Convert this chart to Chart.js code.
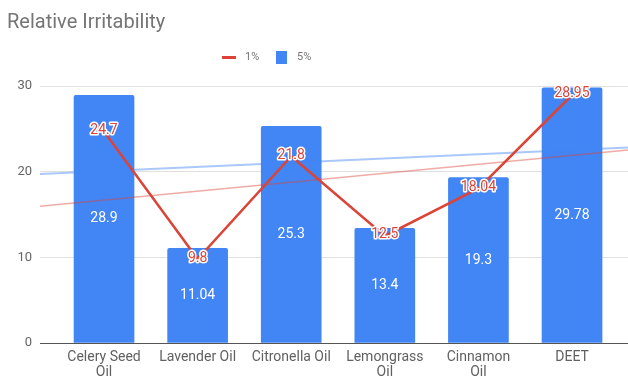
<!DOCTYPE html>
<html><head><meta charset="utf-8">
<script src="https://cdn.jsdelivr.net/npm/chart.js@4.4.1/dist/chart.umd.min.js"></script>
<style>html,body{margin:0;padding:0;background:#fff;} canvas{display:block;}</style>
</head><body>
<canvas id="c" width="628" height="378"></canvas>
<script>
// ---- data ----
const titleText = "Relative Irritability";
const categories = [["Celery Seed","Oil"], "Lavender Oil", "Citronella Oil", ["Lemongrass","Oil"], ["Cinnamon","Oil"], "DEET"];
const seriesNames = ["1%", "5%"];
const values1 = [24.7, 9.8, 21.8, 12.5, 18.04, 28.95];
const values5 = [28.9, 11.04, 25.3, 13.4, 19.3, 29.78];
const yTicks = [0, 10, 20, 30];

// ---- style ----
const RED = '#db4437', BLUE = '#4285f4';
const FONT = 'Roboto';
const xMin = -0.684, xMax = 5.598;

function linReg(vals){
  const n = vals.length;
  const mx = (n - 1) / 2;
  const my = vals.reduce((a,b)=>a+b,0) / n;
  let sxy = 0, sxx = 0;
  vals.forEach((v,i)=>{ sxy += (i-mx)*(v-my); sxx += (i-mx)*(i-mx); });
  const m = sxy / sxx, b = my - m*mx;
  return [{x:xMin, y:m*xMin+b}, {x:xMax, y:m*xMax+b}];
}
const pts = vals => vals.map((v,i)=>({x:i, y:v}));

const labelPlugin = {
  id: 'labels',
  afterDatasetsDraw(chart){
    const ctx = chart.ctx;
    ctx.save();
    ctx.font = '14px ' + FONT;
    ctx.textAlign = 'center';
    ctx.textBaseline = 'middle';
    // bar labels
    chart.getDatasetMeta(3).data.forEach((el,i)=>{
      const p = el.getProps(['x','y','base'], true);
      ctx.fillStyle = '#ffffff';
      ctx.fillText(String(values5[i]), p.x, (p.y + p.base)/2);
    });
    // line labels
    chart.getDatasetMeta(0).data.forEach((el,i)=>{
      const p = el.getProps(['x','y'], true);
      ctx.lineWidth = 3;
      ctx.lineJoin = 'round';
      ctx.strokeStyle = '#ffffff';
      ctx.strokeText(String(values1[i]), p.x, p.y - 1);
      ctx.fillStyle = RED;
      ctx.fillText(String(values1[i]), p.x, p.y - 1);
    });
    ctx.restore();
  }
};

const legendPlugin = {
  id: 'customLegend',
  afterDraw(chart){
    const ctx = chart.ctx;
    ctx.save();
    const y = 57.5;
    ctx.font = '11px ' + FONT;
    ctx.textBaseline = 'middle';
    ctx.textAlign = 'left';
    // 1% line marker
    ctx.strokeStyle = RED; ctx.lineWidth = 3;
    ctx.beginPath(); ctx.moveTo(222, y); ctx.lineTo(236, y); ctx.stroke();
    ctx.fillStyle = '#757575';
    ctx.fillText(seriesNames[0], 245, y);
    // 5% box
    ctx.fillStyle = BLUE;
    ctx.fillRect(276, y - 6.5, 11, 13);
    ctx.fillStyle = '#757575';
    ctx.fillText(seriesNames[1], 297, y);
    ctx.restore();
  }
};

new Chart(document.getElementById('c'), {
  type: 'bar',
  data: {
    datasets: [
      { type:'line', label: seriesNames[0], data: pts(values1), borderColor: RED, borderWidth: 2.5,
        pointRadius: 0, tension: 0, order: 0 },
      { type:'line', label: 'trend1', data: linReg(values1), borderColor: 'rgba(219,68,55,0.45)', borderWidth: 1.5,
        pointRadius: 0, order: 1 },
      { type:'line', label: 'trend5', data: linReg(values5), borderColor: 'rgba(66,133,244,0.45)', borderWidth: 2,
        pointRadius: 0, order: 2 },
      { type:'bar', label: seriesNames[1], data: pts(values5), backgroundColor: BLUE, barThickness: 60,
        borderRadius: 2, borderSkipped: 'bottom', order: 3 }
    ]
  },
  options: {
    responsive: false,
    animation: false,
    events: [],
    layout: { padding: { left: 7, right: 0, top: 0, bottom: 0 } },
    plugins: {
      legend: { display: false },
      tooltip: { enabled: false },
      title: {
        display: true, text: titleText, align: 'start', color: '#757575',
        font: { family: FONT, size: 20, weight: 'normal', lineHeight: 1.2 },
        padding: { top: 11, bottom: 51 }
      }
    },
    scales: {
      x: {
        type: 'linear', min: xMin, max: xMax, offset: false, bounds: 'data',
        grid: { display: false, drawTicks: false },
        border: { display: false },
        afterBuildTicks: s => { s.ticks = categories.map((_,i)=>({value:i})); },
        afterFit: s => { s.height = 35; },
        ticks: {
          autoSkip: false, maxRotation: 0, minRotation: 0, padding: 7,
          color: '#616161', font: { family: FONT, size: 14, lineHeight: 1.05 },
          callback: v => categories[v]
        }
      },
      y: {
        min: 0, max: 30,
        grid: { drawTicks: false, color: c => (c.tick && c.tick.value === 0) ? '#555555' : '#e0e0e0', lineWidth: 1 },
        border: { display: false },
        afterBuildTicks: s => { s.ticks = yTicks.map(v=>({value:v})); },
        afterFit: s => { s.width = 33; },
        ticks: { padding: 8, color: '#666666', font: { family: FONT, size: 13 } }
      }
    }
  },
  plugins: [labelPlugin, legendPlugin]
});
</script>
</body></html>
